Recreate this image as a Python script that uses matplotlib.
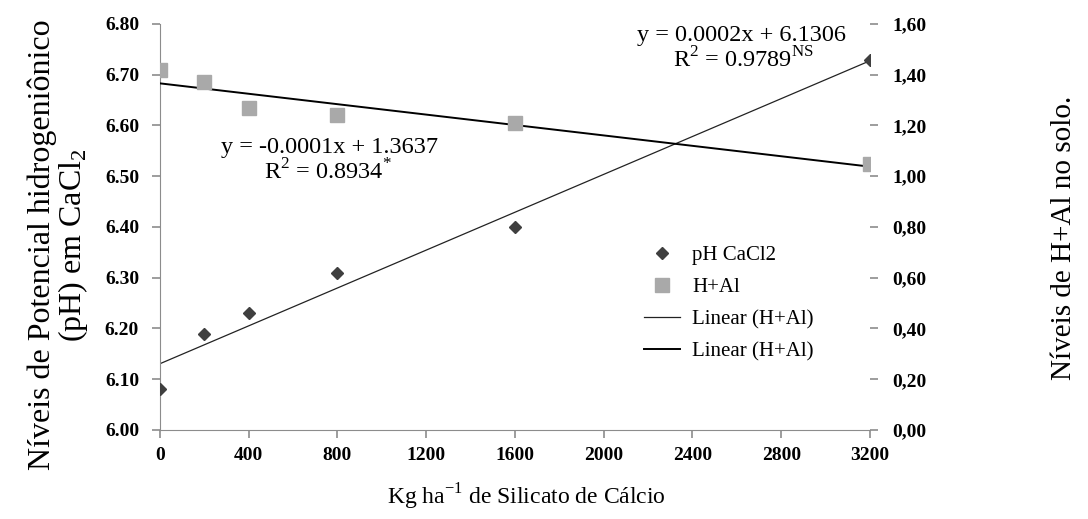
import numpy as np
import matplotlib
matplotlib.use("Agg")
import matplotlib.pyplot as plt
from matplotlib.ticker import FuncFormatter

plt.rcParams["font.family"] = ["Liberation Serif", "DejaVu Serif"]
plt.rcParams["mathtext.fontset"] = "custom"
plt.rcParams["mathtext.rm"] = "Liberation Serif"

# dose of calcium silicate (kg/ha)
doses = [0, 200, 400, 800, 1600, 3200]
ph_cacl2 = [6.08, 6.19, 6.23, 6.31, 6.40, 6.73]
h_al = [1.42, 1.37, 1.27, 1.24, 1.21, 1.05]

x_ticks = [0, 400, 800, 1200, 1600, 2000, 2400, 2800, 3200]
ph_ticks = [6.00, 6.10, 6.20, 6.30, 6.40, 6.50, 6.60, 6.70, 6.80]
hal_ticks = [0.0, 0.2, 0.4, 0.6, 0.8, 1.0, 1.2, 1.4, 1.6]

eq_ph = ["y = 0.0002x + 6.1306", r"R$^2$ = 0.9789$^{\mathrm{NS}}$"]
eq_hal = ["y = -0.0001x + 1.3637", r"R$^2$ = 0.8934$^{*}$"]

GRAY = "#8c8c8c"

fig = plt.figure(figsize=(10.88, 5.19), dpi=100)
ax = fig.add_axes([0.147, 0.1715, 0.6526, 0.7823])
ax2 = ax.twinx()

x = np.array(doses, dtype=float)
xx = np.array([0, 3200], dtype=float)
p_ph = np.polyfit(x, ph_cacl2, 1)
p_hal = np.polyfit(x, h_al, 1)

h1, = ax.plot(doses, ph_cacl2, linestyle="none", marker="D", markersize=6.5,
              color="#3f3f3f", label="pH CaCl2", zorder=5)
h3, = ax.plot(xx, np.polyval(p_ph, xx), color="#222222", lw=0.9,
              label="Linear (H+Al)")
h2, = ax2.plot(doses, h_al, linestyle="none", marker="s", markersize=10,
               color="#a9a9a9", label="H+Al", zorder=4)
h4, = ax2.plot(xx, np.polyval(p_hal, xx), color="black", lw=1.4,
               label="Linear (H+Al)")

ax.set_xlim(0, 3200)
ax.set_ylim(6.0, 6.8)
ax2.set_ylim(0.0, 1.6)
ax.set_xticks(x_ticks)
ax.set_yticks(ph_ticks)
ax2.set_yticks(hal_ticks)
ax.yaxis.set_major_formatter(FuncFormatter(lambda v, p: f"{v:.2f}"))
ax2.yaxis.set_major_formatter(FuncFormatter(lambda v, p: f"{v:.2f}".replace(".", ",")))

for a in (ax, ax2):
    for s in ("top", "right"):
        a.spines[s].set_visible(False)
ax2.spines["left"].set_visible(False)
ax2.spines["bottom"].set_visible(False)
ax.spines["left"].set_color(GRAY)
ax.spines["bottom"].set_color(GRAY)
ax.tick_params(axis="both", colors=GRAY, length=6, width=1.2, labelsize=14,
               labelcolor="black", pad=9)
ax.tick_params(axis="x", pad=6)
ax2.tick_params(axis="y", colors=GRAY, length=6, width=1.2, labelsize=14,
                labelcolor="black", pad=10)
for lab in ax.get_xticklabels() + ax.get_yticklabels() + ax2.get_yticklabels():
    lab.set_fontweight("bold")

fig.text(0.484, 0.042, r"Kg ha$^{\mathregular{-1}}$ de Silicato de Cálcio", fontsize=17,
         ha="center", va="center")
fig.text(0.054, 0.528, "Níveis de Potencial hidrogeniônico\n(pH) em CaCl$_{\\mathregular{2}}$",
         rotation=90, fontsize=23, ha="center", va="center", linespacing=0.95)
fig.text(0.978, 0.541, "Níveis de H+Al no solo.", rotation=90, fontsize=21,
         ha="center", va="center")

ax.text(2623, 6.778, eq_ph[0], fontsize=17.5, ha="center", va="center")
ax.text(2628, 6.729, eq_ph[1], fontsize=17.5, ha="center", va="center")
ax.text(766, 6.556, eq_hal[0], fontsize=17.5, ha="center", va="center")
ax.text(757, 6.508, eq_hal[1], fontsize=17.5, ha="center", va="center")

ax.legend(handles=[h1, h2, h3, h4], loc="upper left", bbox_to_anchor=(0.656, 0.50),
          frameon=False, fontsize=15, handlelength=1.7, labelspacing=0.6,
          handletextpad=0.6)

fig.savefig("out.png", dpi=100)
